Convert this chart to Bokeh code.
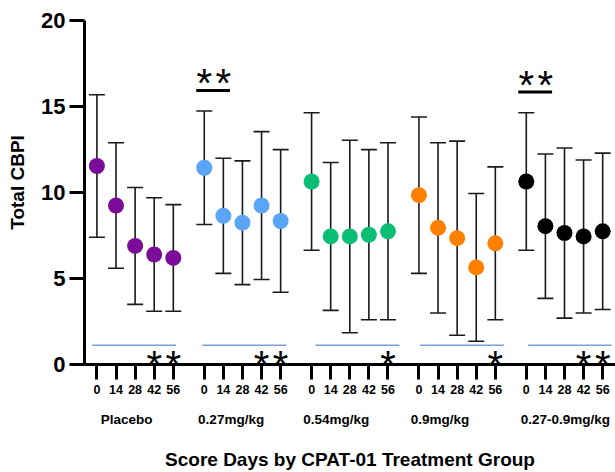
from bokeh.plotting import figure
from bokeh.models import Range1d, LinearAxis, FixedTicker, ColumnDataSource, Whisker, TeeHead
from bokeh.core.properties import value
from bokeh.embed import file_html
from bokeh.resources import INLINE

# ---------------- data ----------------
groups = ["Placebo", "0.27mg/kg", "0.54mg/kg", "0.9mg/kg", "0.27-0.9mg/kg"]
days = [0, 14, 28, 42, 56]

mean_placebo = [11.55, 9.25, 6.9, 6.4, 6.2]
sd_placebo = [4.15, 3.65, 3.4, 3.3, 3.1]
mean_027 = [11.45, 8.65, 8.25, 9.25, 8.35]
sd_027 = [3.3, 3.35, 3.6, 4.3, 4.15]
mean_054 = [10.65, 7.45, 7.45, 7.55, 7.75]
sd_054 = [4.0, 4.3, 5.6, 4.95, 5.15]
mean_09 = [9.85, 7.95, 7.35, 5.65, 7.05]
sd_09 = [4.55, 4.95, 5.65, 4.3, 4.45]
mean_027_09 = [10.65, 8.05, 7.65, 7.45, 7.75]
sd_027_09 = [4.0, 4.2, 4.95, 4.45, 4.55]

means = [mean_placebo, mean_027, mean_054, mean_09, mean_027_09]
sds = [sd_placebo, sd_027, sd_054, sd_09, sd_027_09]

y_ticks = [0, 5, 10, 15, 20]
bottom_sig_days = [[42, 56], [42, 56], [56], [56], [42, 56]]
top_sig_groups = [1, 4]          # "**" bar over day 0 vs day 14

# ---------------- layout / style ----------------
colors = ["#7b0c99", "#5aa5f5", "#0abf75", "#ff8000", "#000000"]
FONT = "Liberation Sans"
DAY_UNIT = 10                    # x units per day
GAP = 787                        # x offset between groups
label_off = [218, 197, 181, 155, 286]
blue_start = [-35, -14, 28, 7, 14]
blue_end = [580, 602, 644, 623, 626]
STAR_SIZE = "40px"
STAR_OFF = 9

def gx(g, d):
    return g * GAP + d * DAY_UNIT

xs, ys, up, lo, cs = [], [], [], [], []
for g in range(len(groups)):
    for i, d in enumerate(days):
        xs.append(gx(g, d))
        ys.append(means[g][i])
        up.append(means[g][i] + sds[g][i])
        lo.append(means[g][i] - sds[g][i])
        cs.append(colors[g])
src = ColumnDataSource(dict(x=xs, y=ys, upper=up, lower=lo, color=cs))

p = figure(width=615, height=472,
           x_range=Range1d(-91, 3802), y_range=Range1d(0, 21.18),
           output_backend="svg", toolbar_location=None,
           x_axis_location=None, y_axis_location=None,
           min_border_left=84, min_border_right=0, min_border_top=0, min_border_bottom=105)
p.outline_line_color = None
p.xgrid.visible = False
p.ygrid.visible = False
p.background_fill_color = "white"

# y axis
yaxis = LinearAxis(ticker=FixedTicker(ticks=y_ticks), bounds=(0, 20),
                   axis_label="Total CBPI")
yaxis.axis_line_width = 3
yaxis.axis_line_color = "black"
yaxis.major_tick_line_width = 3
yaxis.major_tick_line_color = "black"
yaxis.major_tick_out = 15
yaxis.major_tick_in = 0
yaxis.minor_tick_line_color = None
yaxis.major_label_text_font = FONT
yaxis.major_label_text_font_style = "bold"
yaxis.major_label_text_font_size = "22px"
yaxis.major_label_text_color = "black"
yaxis.major_label_standoff = 4
yaxis.axis_label_text_font = FONT
yaxis.axis_label_text_font_style = "bold"
yaxis.axis_label_text_font_size = "19px"
yaxis.axis_label_text_color = "black"
yaxis.axis_label_standoff = 10
p.add_layout(yaxis, "left")

# x axis 1: days
tick_x = [gx(g, d) for g in range(len(groups)) for d in days]
ov1 = {}
for g in range(len(groups)):
    for d in days:
        ov1[gx(g, d)] = str(d)
xaxis1 = LinearAxis(ticker=FixedTicker(ticks=tick_x), major_label_overrides=ov1)
xaxis1.axis_line_width = 3
xaxis1.axis_line_color = "black"
xaxis1.major_tick_line_width = 3
xaxis1.major_tick_line_color = "black"
xaxis1.major_tick_out = 15
xaxis1.major_tick_in = 0
xaxis1.minor_tick_line_color = None
xaxis1.major_label_text_font = FONT
xaxis1.major_label_text_font_style = "bold"
xaxis1.major_label_text_font_size = "12.5px"
xaxis1.major_label_text_color = "black"
xaxis1.major_label_standoff = 5
p.add_layout(xaxis1, "below")

# x axis 2: group names + title
lab_x = [g * GAP + label_off[g] for g in range(len(groups))]
ov2 = {lab_x[g]: groups[g] for g in range(len(groups))}
xaxis2 = LinearAxis(ticker=FixedTicker(ticks=lab_x), major_label_overrides=ov2,
                    axis_label="Score Days by CPAT-01 Treatment Group")
xaxis2.axis_line_color = None
xaxis2.major_tick_line_color = None
xaxis2.minor_tick_line_color = None
xaxis2.major_tick_out = 0
xaxis2.major_tick_in = 0
xaxis2.major_label_text_font = FONT
xaxis2.major_label_text_font_style = "bold"
xaxis2.major_label_text_font_size = "13.5px"
xaxis2.major_label_text_color = "black"
xaxis2.major_label_standoff = 15
xaxis2.axis_label_text_font = FONT
xaxis2.axis_label_text_font_style = "bold"
xaxis2.axis_label_text_font_size = "19px"
xaxis2.axis_label_text_color = "black"
xaxis2.axis_label_standoff = 19
p.add_layout(xaxis2, "below")

# error bars
wh = Whisker(source=src, base="x", upper="upper", lower="lower",
             line_color="#1a1a1a", line_width=1.6,
             upper_head=TeeHead(size=16, line_color="#1a1a1a", line_width=1.6),
             lower_head=TeeHead(size=16, line_color="#1a1a1a", line_width=1.6),
             level="underlay")
p.add_layout(wh)

# means
p.scatter("x", "y", source=src, size=16, fill_color="color", line_color="color", line_width=0)

# blue reference lines near bottom
bx0 = [g * GAP + blue_start[g] for g in range(len(groups))]
bx1 = [g * GAP + blue_end[g] for g in range(len(groups))]
p.segment(x0=bx0, x1=bx1, y0=[1.12] * len(groups), y1=[1.12] * len(groups),
          line_color="#7b9fdc", line_width=1.5)

# bottom asterisks
sx, sy = [], []
for g in range(len(groups)):
    for d in bottom_sig_days[g]:
        sx.append(gx(g, d))
        sy.append(0.5)
p.text(x=sx, y=sy, text=["*"] * len(sx), text_font=value(FONT),
       text_font_size=STAR_SIZE, text_align="center", text_baseline="alphabetic",
       y_offset=STAR_OFF, text_color="black")

# top significance bars
tbx0, tbx1, tby, tsx, tsy = [], [], [], [], []
for g in top_sig_groups:
    i0, i1 = 0, 1
    yb = max(means[g][i0] + sds[g][i0], means[g][i1] + sds[g][i1]) + 1.2
    tbx0.append(gx(g, days[i0]) - 59)
    tbx1.append(gx(g, days[i1]) + 49)
    tby.append(yb)
    tsx += [gx(g, days[i0]), gx(g, days[i1])]
    tsy += [yb + 0.93, yb + 0.93]
p.segment(x0=tbx0, x1=tbx1, y0=tby, y1=tby, line_color="black", line_width=3)
p.text(x=tsx, y=tsy, text=["*"] * len(tsx), text_font=value(FONT),
       text_font_size=STAR_SIZE, text_align="center", text_baseline="alphabetic",
       y_offset=STAR_OFF, text_color="black")

open("out.html", "w").write(file_html(p, INLINE))
